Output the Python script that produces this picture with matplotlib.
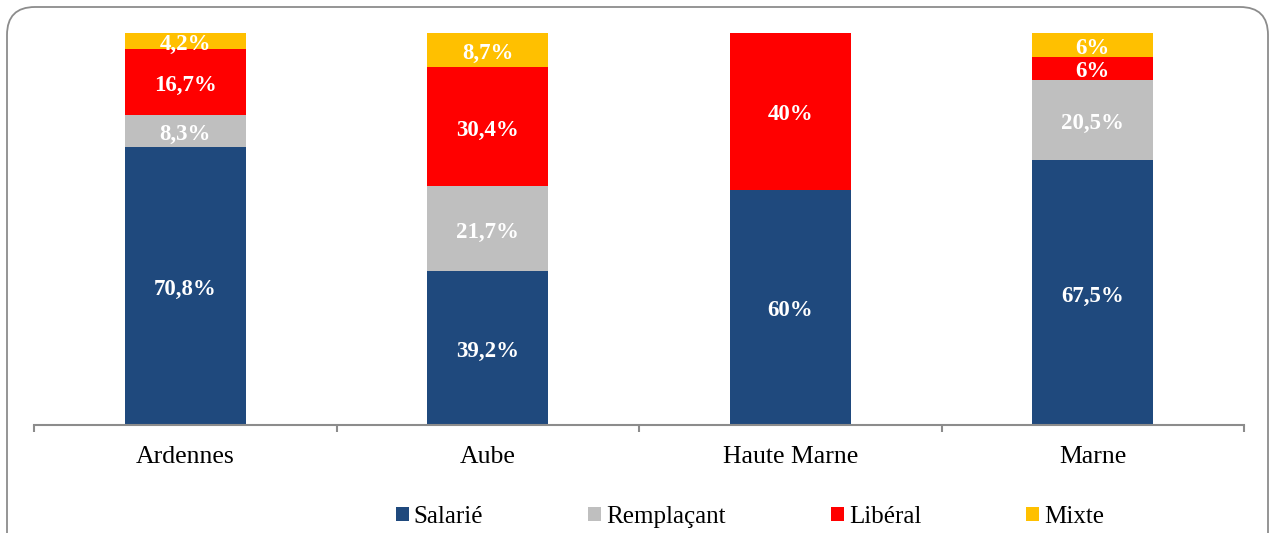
import numpy as np
import matplotlib
matplotlib.use("Agg")
import matplotlib.pyplot as plt
from matplotlib.patches import Patch, FancyBboxPatch

plt.rcParams['font.family'] = ['Liberation Serif', 'DejaVu Serif']

# data (percent per department)
departements = ['Ardennes', 'Aube', 'Haute Marne', 'Marne']
series = ['Salarié', 'Remplaçant', 'Libéral', 'Mixte']
salarie = [70.8, 39.2, 60.0, 67.5]
remplacant = [8.3, 21.7, 0.0, 20.5]
liberal = [16.7, 30.4, 40.0, 6.0]
mixte = [4.2, 8.7, 0.0, 6.0]
colors = ['#1F497D', '#BFBFBF', '#FF0000', '#FFC000']


def fmt(v):
    s = f"{v:.1f}".rstrip('0').rstrip('.')
    return s.replace('.', ',') + '%'


W, H = 1270, 533
fig = plt.figure(figsize=(W / 100, H / 100), dpi=100)

# rounded frame around the chart (bottom edge runs off the page)
frame = FancyBboxPatch((7 / W, -40 / H), 1261 / W, (526 + 40) / H,
                       boxstyle="round,pad=0,rounding_size=0.022",
                       transform=fig.transFigure, fill=False,
                       edgecolor='#8C8C8C', linewidth=1.3,
                       mutation_aspect=W / H, clip_on=False)
fig.patches.append(frame)

ax = fig.add_axes([34 / W, 108 / H, 1210 / W, 392 / H])
x = np.arange(len(departements))
bottom = np.zeros(len(departements))
for vals, col in zip([salarie, remplacant, liberal, mixte], colors):
    vals = np.array(vals)
    ax.bar(x, vals, width=0.4, bottom=bottom, color=col, edgecolor='none')
    for xi, b, v in zip(x, bottom, vals):
        if v > 0:
            ax.annotate(fmt(v), (xi, b + v / 2), xytext=(0, -2.5),
                        textcoords='offset points', ha='center', va='center',
                        color='white', fontsize=16.5, fontweight='bold')
    bottom += vals

ax.set_xlim(-0.5, len(departements) - 0.5)
ax.set_ylim(0, 100)
for s in ['top', 'right', 'left']:
    ax.spines[s].set_visible(False)
ax.spines['bottom'].set_color('#8C8C8C')
ax.spines['bottom'].set_linewidth(1.5)
ax.set_yticks([])
ax.set_xticks(x)
ax.set_xticklabels(departements, fontsize=18.5)
ax.tick_params(axis='x', which='major', length=0, pad=15)
ax.set_xticks(np.arange(-0.5, len(departements)), minor=True)
ax.tick_params(axis='x', which='minor', length=5, width=1.5, color='#8C8C8C', direction='out')

handles = [Patch(facecolor=c, edgecolor='none', label=s) for c, s in zip(colors, series)]
fig.legend(handles=handles, loc='center', ncol=4, frameon=False,
           bbox_to_anchor=(750 / W, 1 - 517 / H), fontsize=18,
           handlelength=0.52, handleheight=0.52, handletextpad=0.2,
           columnspacing=4.2)

fig.savefig('out.png', dpi=100)
